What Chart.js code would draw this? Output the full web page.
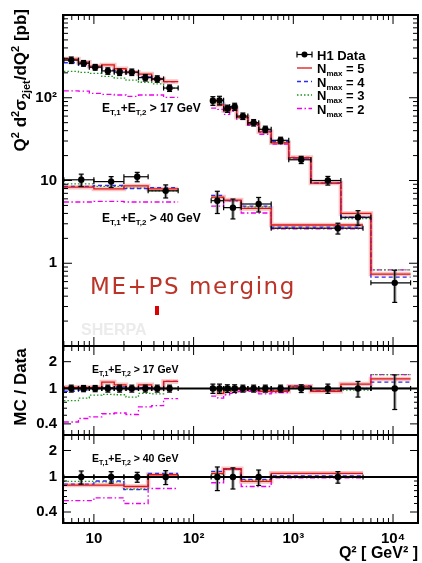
<!DOCTYPE html>
<html>
<head>
<meta charset="utf-8">
<script src="https://cdn.jsdelivr.net/npm/chart.js@4"></script>
<style>
  body { margin: 0; background: #fff; }
  #wrap { position: relative; width: 422px; height: 563px; }
  #wrap canvas { position: absolute; left: 0; top: 0; }
</style>
</head>
<body>
<div id="wrap">
  <canvas id="c1" width="422" height="563"></canvas>
  <canvas id="c2" width="422" height="563"></canvas>
  <canvas id="c3" width="422" height="563"></canvas>
</div>
<script>
// Q^2 bin edges [GeV^2]
const edges17Low = [5, 7, 9, 12, 16, 21, 28, 38, 50, 70];
const edges17High = [150, 175, 200, 230, 270, 350, 450, 600, 900, 1500, 3000, 6000, 15000];
const edges40Low = [5, 10, 20, 35, 70];
const edges40High = [150, 200, 300, 600, 5000];

// where the H1 points sit in Q^2
const q2Data17Low = [5.93, 7.88, 10.3, 13.8, 18.1, 24.0, 32.8, 43.2, 57.4];
const q2Data17High = [156, 182, 218, 258, 312, 400, 524, 746, 1200, 2220, 4450, 10400];
const q2Data40Low = [7.47, 14.9, 27.2, 52.5];
const q2Data40High = [173, 248, 449, 2800];

// H1 data [pb] and relative errors
const data17Low = [285, 261, 234, 211, 204, 204, 175, 169, 131];
const data17High = [92, 93, 74, 78, 60, 50, 41.6, 30.6, 17.8, 10.0, 3.6, 0.58];
const data40Low = [10.2, 9.7, 11.1, 7.5];
const data40High = [5.7, 4.7, 5.2, 2.65];
const err17Low = [0.09, 0.08, 0.08, 0.09, 0.09, 0.09, 0.09, 0.09, 0.09];
const err17High = [0.12, 0.12, 0.1, 0.1, 0.09, 0.09, 0.09, 0.09, 0.1, 0.12, 0.2, 0.42];
const err40Low = [0.17, 0.15, 0.13, 0.18];
const err40High = [0.3, 0.27, 0.2, 0.15];

// Sherpa predictions, top panel [pb]
const mc17LowN5 = [293, 269, 241, 249, 224, 204, 193, 169, 157];
const mc17LowN4 = [265, 251, 234, 215, 212, 200, 179, 167, 157];
const mc17LowN3 = [208, 203, 197, 181, 173, 163, 154, 147, 131];
const mc17LowN2 = [121, 120, 113, 110, 108, 104, 108, 108, 101];
const mc17HighN5 = [92, 82, 70, 74, 58, 48.5, 38.7, 28.5, 18.9, 9.3, 4.0, 0.74];
const mc17HighN4 = [92, 90, 72.5, 75.7, 58.8, 48, 39.5, 29.4, 19, 9.3, 3.56, 0.68];
const mc17HighN3 = [87, 85.5, 69, 71.8, 57, 47.5, 38.3, 28.8, 18.7, 9.3, 3.46, 0.83];
const mc17HighN2 = [75, 72.5, 63, 68.6, 55.2, 46.5, 36.2, 27.5, 18.5, 9.3, 3.6, 0.83];
const mc40LowN5 = [8.3, 7.9, 8.6, 7.9];
const mc40LowN4 = [8.5, 8.7, 8.0, 8.2];
const mc40LowN3 = [9.1, 8.5, 8.1, 7.5];
const mc40LowN2 = [5.5, 5.6, 5.5, 5.5];
const mc40HighN5 = [6.3, 5.8, 4.6, 2.9];
const mc40HighN4 = [6.6, 5.7, 4.9, 2.73];
const mc40HighN3 = [6.2, 5.7, 4.8, 2.65];
const mc40HighN2 = [4.9, 5.7, 4.05, 2.6];

// MC / Data
const r17LowN5 = [1.03, 1.03, 1.03, 1.18, 1.10, 1.00, 1.10, 1.00, 1.20];
const r17LowN4 = [0.93, 0.96, 1.00, 1.02, 1.04, 0.98, 1.02, 0.99, 1.20];
const r17LowN3 = [0.73, 0.78, 0.84, 0.86, 0.85, 0.80, 0.88, 0.87, 1.00];
const r17LowN2 = [0.42, 0.46, 0.48, 0.52, 0.53, 0.51, 0.62, 0.64, 0.77];
const r17HighN5 = [1.00, 0.88, 0.95, 0.95, 0.97, 0.97, 0.93, 0.93, 1.06, 0.93, 1.12, 1.28];
const r17HighN4 = [1.00, 0.97, 0.98, 0.97, 0.98, 0.96, 0.95, 0.96, 1.07, 0.93, 0.99, 1.18];
const r17HighN3 = [0.95, 0.92, 0.93, 0.92, 0.95, 0.95, 0.92, 0.94, 1.05, 0.93, 0.96, 1.43];
const r17HighN2 = [0.82, 0.78, 0.85, 0.88, 0.92, 0.93, 0.87, 0.90, 1.04, 0.93, 1.00, 1.43];
const r40LowN5 = [0.81, 0.81, 0.78, 1.06];
const r40LowN4 = [0.83, 0.90, 0.72, 1.10];
const r40LowN3 = [0.89, 0.88, 0.73, 1.00];
const r40LowN2 = [0.54, 0.58, 0.50, 0.74];
const r40HighN5 = [1.10, 1.24, 0.89, 1.10];
const r40HighN4 = [1.16, 1.22, 0.94, 1.03];
const r40HighN3 = [1.08, 1.22, 0.92, 1.00];
const r40HighN2 = [0.86, 1.22, 0.78, 0.98];

// axis ticks
const xTickVals = [10, 100, 1000, 10000];
const xTickText = ['10', '10²', '10³', '10⁴'];
const yTopTickVals = [1, 10, 100];
const yTopTickText = ['1', '10', '10²'];
const yRatioTickVals = [0.4, 1, 2];
const yRatioTickText = ['0.4', '1', '2'];

const FONT = "'Liberation Sans', Arial, Helvetica, sans-serif";
const XMIN = 4.9, XMAX = 17800;

const styles = [
  { color: 'rgb(225,20,20)', dash: [] },
  { color: 'rgb(45,45,235)', dash: [4, 3] },
  { color: 'rgb(30,150,30)', dash: [1.5, 2] },
  { color: 'rgb(235,0,235)', dash: [5, 2.5, 1.5, 2.5] }
];

function histPoints(edges, vals) {
  const pts = vals.map((v, i) => ({ x: edges[i], y: v }));
  pts.push({ x: edges[edges.length - 1], y: vals[vals.length - 1] });
  return pts;
}

// four N_max lines plus a soft band under the N_max = 5 one
function mcSets(edges, n5, n4, n3, n2) {
  const out = [n5, n4, n3, n2].map((vals, k) => ({
    data: histPoints(edges, vals), stepped: 'before',
    borderColor: styles[k].color, borderDash: styles[k].dash,
    borderWidth: 1.3, pointRadius: 0, fill: false
  }));
  out.push({
    data: histPoints(edges, n5), stepped: 'before',
    borderColor: 'rgba(230,90,90,0.35)', borderWidth: 4.5, pointRadius: 0, fill: false
  });
  return out;
}

function pointSet(qs, vals) {
  return {
    data: qs.map((q, i) => ({ x: q, y: vals[i] })), showLine: false,
    pointRadius: 3.2, pointBackgroundColor: '#000', pointBorderColor: '#000', pointBorderWidth: 0
  };
}

function line(ctx, x1, y1, x2, y2) { ctx.beginPath(); ctx.moveTo(x1, y1); ctx.lineTo(x2, y2); ctx.stroke(); }

function errPlugin(sets) {
  return {
    id: 'errbars',
    beforeDatasetDraw(chart, args) {
      if (args.index !== 0) return;
      const { ctx, scales: { x, y } } = chart;
      ctx.save();
      for (const s of sets) {
        s.q.forEach((q, i) => {
          const px = x.getPixelForValue(q), py = y.getPixelForValue(s.v[i]);
          const yLo = y.getPixelForValue(s.v[i] * (1 - s.e[i]));
          const yHi = y.getPixelForValue(s.v[i] * (1 + s.e[i]));
          const xL = x.getPixelForValue(s.edges[i]), xR = x.getPixelForValue(s.edges[i + 1]);
          ctx.strokeStyle = 'rgba(100,100,100,0.5)'; ctx.lineWidth = 3.5;
          line(ctx, px, yLo, px, yHi);
          ctx.strokeStyle = '#000'; ctx.lineWidth = 1.2;
          line(ctx, px, yLo, px, yHi);
          line(ctx, px - 2.5, yLo, px + 2.5, yLo);
          line(ctx, px - 2.5, yHi, px + 2.5, yHi);
          line(ctx, xL, py, xR, py);
          line(ctx, xL, py - 2.5, xL, py + 2.5);
          line(ctx, xR, py - 2.5, xR, py + 2.5);
        });
      }
      ctx.restore();
    }
  };
}

function framePlugin(yTicks) {
  return {
    id: 'frame',
    afterDraw(chart) {
      const { ctx, chartArea: a, scales: { x, y } } = chart;
      ctx.save();
      ctx.strokeStyle = '#000'; ctx.lineWidth = 1;
      for (let d = 0; d <= 4; d++) {
        for (let k = 1; k <= 9; k++) {
          const v = k * Math.pow(10, d);
          if (v < x.min || v > x.max) continue;
          const px = x.getPixelForValue(v), L = k === 1 ? 9 : 5;
          line(ctx, px, a.top, px, a.top + L);
          line(ctx, px, a.bottom, px, a.bottom - L);
        }
      }
      yTicks.forEach(([v, L]) => {
        const py = y.getPixelForValue(v);
        line(ctx, a.left, py, a.left + L, py);
        line(ctx, a.right, py, a.right - L, py);
      });
      ctx.lineWidth = 2;
      ctx.strokeRect(a.left, a.top, a.right - a.left, a.bottom - a.top);
      ctx.restore();
    }
  };
}

function drawRich(ctx, parts, x, y) {
  let cx = x;
  for (const p of parts) {
    ctx.font = p.f;
    ctx.fillText(p.t, cx, y + (p.dy || 0));
    cx += ctx.measureText(p.t).width;
  }
  return cx - x;
}
function richWidth(ctx, parts) {
  let w = 0;
  for (const p of parts) { ctx.font = p.f; w += ctx.measureText(p.t).width; }
  return w;
}
function etLabel(size, cut) {
  const b = 'bold ' + size + 'px ' + FONT, s = 'bold ' + Math.round(size * 0.65) + 'px ' + FONT;
  return [
    { t: 'E', f: b }, { t: 'T,1', f: s, dy: size * 0.28 },
    { t: '+E', f: b }, { t: 'T,2', f: s, dy: size * 0.28 },
    { t: ' > ' + cut + ' GeV', f: b }
  ];
}

function yScale(min, max, vals, text, width) {
  return {
    type: 'logarithmic', min: min, max: max,
    afterFit: s => { s.width = width; },
    afterBuildTicks: s => { s.ticks = vals.map(v => ({ value: v })); },
    grid: { display: false, drawTicks: false }, border: { display: false },
    ticks: {
      padding: 6, color: '#000', font: { family: FONT, size: 15, weight: 'bold' },
      callback: v => text[vals.indexOf(v)]
    }
  };
}

function baseOptions(padTop, padBottom, ys, xShown) {
  const x = { type: 'logarithmic', min: XMIN, max: XMAX, display: false };
  if (xShown) {
    Object.assign(x, {
      display: true,
      afterFit: s => { s.height = 40; },
      afterBuildTicks: s => { s.ticks = xTickVals.map(v => ({ value: v })); },
      grid: { display: false, drawTicks: false }, border: { display: false },
      ticks: {
        padding: 7, color: '#000', maxRotation: 0, autoSkip: false,
        font: { family: FONT, size: 15, weight: 'bold' },
        callback: v => xTickText[xTickVals.indexOf(v)]
      },
      title: {
        display: true, text: 'Q² [ GeV² ]', align: 'end', color: '#000',
        font: { family: FONT, size: 16, weight: 'bold' }, padding: { top: 0, bottom: 0 }
      }
    });
  }
  return {
    responsive: false, animation: false, events: [],
    layout: { padding: { top: padTop, bottom: padBottom, left: 0, right: 4 } },
    plugins: { legend: { display: false }, tooltip: { enabled: false } },
    scales: { x: x, y: ys }
  };
}

const topTicks = [];
for (let d = -1; d <= 3; d++) for (let k = 1; k <= 9; k++) topTicks.push([k * Math.pow(10, d), k === 1 ? 9 : 5]);
const ratioTicks = [[0.4, 8], [0.5, 4], [0.6, 4], [0.7, 4], [0.8, 4], [0.9, 4], [1, 9], [2, 8], [3, 4]];

// ---------- top panel ----------
const topText = {
  id: 'topText',
  afterDraw(chart) {
    const ctx = chart.ctx;
    ctx.save();
    ctx.fillStyle = '#000';
    // y title, rotated
    const B = 'bold 17px ' + FONT, S = 'bold 11px ' + FONT;
    const title = [
      { t: 'Q', f: B }, { t: '2', f: S, dy: -7 }, { t: ' d', f: B }, { t: '2', f: S, dy: -7 },
      { t: 'σ', f: B }, { t: '2jet', f: S, dy: 4 }, { t: '/dQ', f: B }, { t: '2', f: S, dy: -7 },
      { t: ' [pb]', f: B }
    ];
    const w = richWidth(ctx, title);
    ctx.save(); ctx.translate(26, 9 + w); ctx.rotate(-Math.PI / 2);
    drawRich(ctx, title, 0, 0); ctx.restore();

    drawRich(ctx, etLabel(12, 17), 102, 112);
    drawRich(ctx, etLabel(12, 40), 102, 222);

    // legend
    const rows = [54.5, 68, 81.5, 95, 108.5];
    const LB = 'bold 13px ' + FONT, LS = 'bold 8px ' + FONT;
    ctx.strokeStyle = '#000'; ctx.lineWidth = 1.2;
    line(ctx, 297, rows[0], 312, rows[0]);
    line(ctx, 297, rows[0] - 3, 297, rows[0] + 3);
    line(ctx, 312, rows[0] - 3, 312, rows[0] + 3);
    ctx.beginPath(); ctx.arc(304.5, rows[0], 3, 0, 2 * Math.PI); ctx.fill();
    ctx.font = LB; ctx.fillText('H1 Data', 317, rows[0] + 5);
    [5, 4, 3, 2].forEach((n, k) => {
      const yy = rows[k + 1];
      ctx.strokeStyle = styles[k].color; ctx.setLineDash(styles[k].dash); ctx.lineWidth = 1.3;
      line(ctx, 297, yy, 312, yy);
      ctx.setLineDash([]);
      drawRich(ctx, [{ t: 'N', f: LB }, { t: 'max', f: LS, dy: 3 }, { t: ' = ' + n, f: LB }], 317, yy + 5);
    });

    // Sherpa tag
    ctx.fillStyle = 'rgb(188,52,40)';
    ctx.font = "23px 'DejaVu Sans', sans-serif";
    ctx.letterSpacing = '1.6px';
    ctx.fillText('ME+PS merging', 90, 294);
    ctx.letterSpacing = '0px';
    ctx.fillStyle = 'rgb(220,0,0)';
    ctx.fillRect(155, 306, 4, 9);
    ctx.fillStyle = '#ebebeb';
    ctx.font = 'bold 16px ' + FONT;
    ctx.fillText('SHERPA', 81, 335);
    ctx.restore();
  }
};

new Chart(document.getElementById('c1'), {
  type: 'line',
  data: {
    datasets: [
      pointSet(q2Data17Low.concat(q2Data17High, q2Data40Low, q2Data40High),
               data17Low.concat(data17High, data40Low, data40High)),
      ...mcSets(edges17Low, mc17LowN5, mc17LowN4, mc17LowN3, mc17LowN2),
      ...mcSets(edges17High, mc17HighN5, mc17HighN4, mc17HighN3, mc17HighN2),
      ...mcSets(edges40Low, mc40LowN5, mc40LowN4, mc40LowN3, mc40LowN2),
      ...mcSets(edges40High, mc40HighN5, mc40HighN4, mc40HighN3, mc40HighN2)
    ]
  },
  options: baseOptions(7, 563 - 346, yScale(0.1, 1000, yTopTickVals, yTopTickText, 63), false),
  plugins: [
    errPlugin([
      { q: q2Data17Low, v: data17Low, e: err17Low, edges: edges17Low },
      { q: q2Data17High, v: data17High, e: err17High, edges: edges17High },
      { q: q2Data40Low, v: data40Low, e: err40Low, edges: edges40Low },
      { q: q2Data40High, v: data40High, e: err40High, edges: edges40High }
    ]),
    framePlugin(topTicks), topText
  ]
});

// ---------- ratio panels ----------
function ratioChart(id, padTop, padBottom, xShown, cut, low, high, withTitle) {
  const unity = {
    data: [{ x: XMIN, y: 1 }, { x: XMAX, y: 1 }],
    borderColor: '#000', borderWidth: 2, pointRadius: 0, fill: false
  };
  const ones = qs => qs.map(() => 1);
  const text = {
    id: 'ratioText',
    afterDraw(chart) {
      const ctx = chart.ctx;
      ctx.save(); ctx.fillStyle = '#000';
      drawRich(ctx, etLabel(10.5, cut), 92, chart.chartArea.top + 27);
      if (withTitle) {
        ctx.font = 'bold 17px ' + FONT;
        const w = ctx.measureText('MC / Data').width;
        ctx.translate(26, 387 + w / 2); ctx.rotate(-Math.PI / 2);
        ctx.fillText('MC / Data', 0, 0);
      }
      ctx.restore();
    }
  };
  new Chart(document.getElementById(id), {
    type: 'line',
    data: {
      datasets: [
        pointSet(low.q.concat(high.q), ones(low.q).concat(ones(high.q))),
        unity,
        ...mcSets(low.edges, ...low.r),
        ...mcSets(high.edges, ...high.r)
      ]
    },
    options: baseOptions(padTop, padBottom, yScale(0.33, 3, yRatioTickVals, yRatioTickText, 63), xShown),
    plugins: [
      errPlugin([
        { q: low.q, v: ones(low.q), e: low.e, edges: low.edges },
        { q: high.q, v: ones(high.q), e: high.e, edges: high.edges }
      ]),
      framePlugin(ratioTicks), text
    ]
  });
}

ratioChart('c2', 346, 563 - 435, false, 17,
  { q: q2Data17Low, e: err17Low, edges: edges17Low, r: [r17LowN5, r17LowN4, r17LowN3, r17LowN2] },
  { q: q2Data17High, e: err17High, edges: edges17High, r: [r17HighN5, r17HighN4, r17HighN3, r17HighN2] },
  true);
ratioChart('c3', 435, 0, true, 40,
  { q: q2Data40Low, e: err40Low, edges: edges40Low, r: [r40LowN5, r40LowN4, r40LowN3, r40LowN2] },
  { q: q2Data40High, e: err40High, edges: edges40High, r: [r40HighN5, r40HighN4, r40HighN3, r40HighN2] },
  false);
</script>
</body>
</html>
